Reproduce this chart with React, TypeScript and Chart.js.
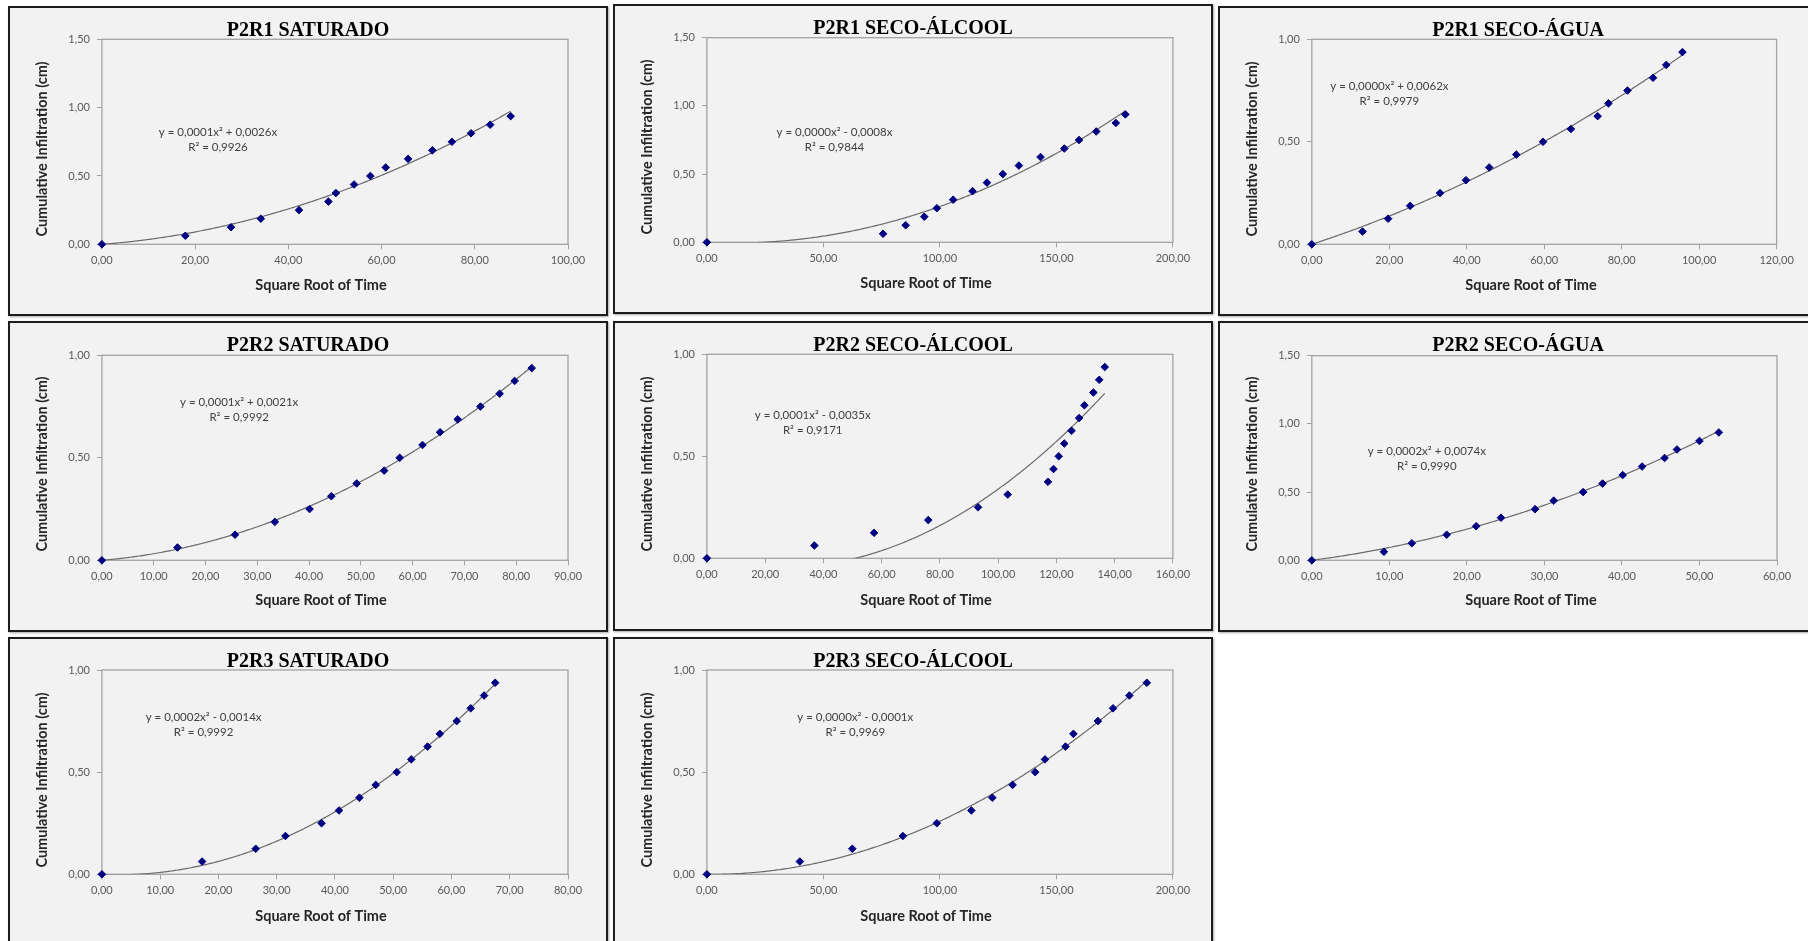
import React, { useEffect, useRef } from 'react';
import { Chart, registerables } from 'chart.js';

Chart.register(...registerables);

// ---- Data ----
const cumulativeInfiltration = [0, 0.0625, 0.125, 0.1875, 0.25, 0.3125, 0.375, 0.4375, 0.5, 0.5625, 0.625, 0.6875, 0.75, 0.8125, 0.875, 0.9375];

const sqrtTimeP2R1Saturado = [0, 17.9, 27.7, 34.1, 42.3, 48.6, 50.2, 54.1, 57.6, 60.9, 65.7, 70.9, 75.1, 79.2, 83.3, 87.7];
const sqrtTimeP2R1SecoAlcool = [0, 75.6, 85.3, 93.3, 98.7, 105.7, 114.0, 120.2, 127.0, 133.9, 143.2, 153.4, 159.7, 167.1, 175.5, 179.6];
const sqrtTimeP2R1SecoAgua = [0, 13.1, 19.7, 25.4, 33.1, 39.8, 45.8, 52.8, 59.7, 66.9, 73.8, 76.6, 81.5, 88.1, 91.5, 95.7];
const sqrtTimeP2R2Saturado = [0, 14.6, 25.7, 33.4, 40.1, 44.3, 49.2, 54.5, 57.5, 61.9, 65.3, 68.7, 73.1, 76.8, 79.7, 83.0];
const sqrtTimeP2R2SecoAlcool = [0, 36.9, 57.4, 76.0, 93.1, 103.3, 117.1, 119.0, 120.8, 122.7, 125.2, 127.8, 129.6, 132.7, 134.7, 136.6];
const sqrtTimeP2R2SecoAgua = [0, 9.3, 12.9, 17.4, 21.2, 24.4, 28.8, 31.2, 35.0, 37.5, 40.1, 42.6, 45.5, 47.1, 50.0, 52.5];
const sqrtTimeP2R3Saturado = [0, 17.2, 26.4, 31.5, 37.7, 40.7, 44.2, 47.0, 50.6, 53.1, 55.9, 58.0, 60.9, 63.3, 65.6, 67.5];
const sqrtTimeP2R3SecoAlcool = [0, 39.9, 62.4, 84.1, 98.7, 113.5, 122.5, 131.2, 140.9, 145.1, 153.9, 157.3, 167.8, 174.3, 181.3, 188.8];

const seriesX = [
  sqrtTimeP2R1Saturado, sqrtTimeP2R1SecoAlcool, sqrtTimeP2R1SecoAgua,
  sqrtTimeP2R2Saturado, sqrtTimeP2R2SecoAlcool, sqrtTimeP2R2SecoAgua,
  sqrtTimeP2R3Saturado, sqrtTimeP2R3SecoAlcool,
];

const panelTitles = [
  'P2R1 SATURADO', 'P2R1 SECO-ÁLCOOL', 'P2R1 SECO-ÁGUA',
  'P2R2 SATURADO', 'P2R2 SECO-ÁLCOOL', 'P2R2 SECO-ÁGUA',
  'P2R3 SATURADO', 'P2R3 SECO-ÁLCOOL',
];

const equationTexts = [
  'y = 0,0001x² + 0,0026x', 'y = 0,0000x² - 0,0008x', 'y = 0,0000x² + 0,0062x',
  'y = 0,0001x² + 0,0021x', 'y = 0,0001x² - 0,0035x', 'y = 0,0002x² + 0,0074x',
  'y = 0,0002x² - 0,0014x', 'y = 0,0000x² - 0,0001x',
];
const rSquaredTexts = [
  'R² = 0,9926', 'R² = 0,9844', 'R² = 0,9979',
  'R² = 0,9992', 'R² = 0,9171', 'R² = 0,9990',
  'R² = 0,9992', 'R² = 0,9969',
];

const xAxisMax = [100, 200, 120, 90, 160, 60, 80, 200];
const xAxisStep = [20, 50, 20, 10, 20, 10, 10, 50];
const yAxisMax = [1.5, 1.5, 1.0, 1.0, 1.0, 1.5, 1.0, 1.0];
const yAxisStep = [0.5, 0.5, 0.5, 0.5, 0.5, 0.5, 0.5, 0.5];

const xAxisTitle = 'Square Root of Time';
const yAxisTitle = 'Cumulative Infiltration (cm)';

// ---- Layout (styles) ----
type PanelLayout = { box: number[]; plot: number[]; eq: number[] };
const layouts: PanelLayout[] = [
  { box: [8, 6, 600, 310], plot: [101.9, 39.3, 568, 244.3], eq: [210, 126.7, 141.3] },
  { box: [613, 4, 600, 310], plot: [706.9, 37.7, 1172.9, 242.3], eq: [221.5, 128, 143] },
  { box: [1218, 6, 600, 310], plot: [1311.8, 39.3, 1776.6, 244.3], eq: [171.4, 80.7, 95.3] },
  { box: [8, 321, 600, 311], plot: [101.9, 355.3, 568, 560.3], eq: [231.2, 81.7, 96.7] },
  { box: [613, 321, 600, 310], plot: [706.9, 354.3, 1172.9, 558.3], eq: [199.7, 94.7, 109.7] },
  { box: [1218, 321, 600, 311], plot: [1311.8, 355.7, 1777, 560.3], eq: [208.8, 130.3, 145.7] },
  { box: [8, 637, 600, 310], plot: [101.9, 670, 568, 874.3], eq: [195.6, 80.3, 95.3] },
  { box: [613, 637, 600, 310], plot: [706.9, 670, 1172.9, 874.3], eq: [242.3, 80.3, 95.3] },
];

const fmt = (v: number) => Number(v).toFixed(2).replace('.', ',');

// Excel-style polynomial (order 2) trendline with intercept fixed at 0
function fitQuadraticThroughOrigin(xs: number[], ys: number[]) {
  let s2 = 0, s3 = 0, s4 = 0, sxy = 0, sx2y = 0;
  for (let i = 0; i < xs.length; i++) {
    const x = xs[i], y = ys[i];
    s2 += x * x; s3 += x * x * x; s4 += x * x * x * x;
    sxy += x * y; sx2y += x * x * y;
  }
  const det = s4 * s2 - s3 * s3;
  const a = (sx2y * s2 - s3 * sxy) / det;
  const b = (s4 * sxy - s3 * sx2y) / det;
  return { a, b };
}

function Panel({ idx }: { idx: number }) {
  const ref = useRef<HTMLCanvasElement>(null);
  const L = layouts[idx];
  const [bx, by, bw, bh] = L.box;

  useEffect(() => {
    const [pl, pt, pr, pb] = L.plot;
    const leftW = pl - bx;
    const topPad = pt - by;
    const rightPad = bw - (pr - bx);
    const bottomH = bh - (pb - by);
    const xs = seriesX[idx];
    const ys = cumulativeInfiltration;
    const fit = fitQuadraticThroughOrigin(xs, ys);
    const xLast = Math.max(...xs);

    const framePlugin = {
      id: 'frameAndTrend',
      beforeDatasetsDraw(chart: any) {
        const { ctx, chartArea, scales } = chart;
        const { left, top, right, bottom } = chartArea;
        ctx.save();
        ctx.strokeStyle = '#a3a3a3';
        ctx.lineWidth = 1.3;
        ctx.strokeRect(left, top, right - left, bottom - top);
        ctx.restore();

        // trendline
        ctx.save();
        ctx.beginPath();
        ctx.rect(left, top, right - left, bottom - top);
        ctx.clip();
        ctx.strokeStyle = '#6a6a6a';
        ctx.lineWidth = 1.2;
        ctx.beginPath();
        const n = 300;
        for (let i = 0; i <= n; i++) {
          const xv = (xLast * i) / n;
          const yv = fit.a * xv * xv + fit.b * xv;
          const px = scales.x.getPixelForValue(xv);
          const py = scales.y.getPixelForValue(yv);
          if (i === 0) ctx.moveTo(px, py); else ctx.lineTo(px, py);
        }
        ctx.stroke();
        ctx.restore();
      },
    };

    const textPlugin = {
      id: 'panelText',
      afterDraw(chart: any) {
        const { ctx } = chart;
        ctx.save();
        // title
        ctx.fillStyle = '#000000';
        ctx.font = 'bold 20px "Liberation Serif", "Times New Roman", serif';
        ctx.textAlign = 'center';
        ctx.textBaseline = 'alphabetic';
        ctx.fillText(panelTitles[idx], bw / 2, 30.2);

        // axis titles
        ctx.fillStyle = '#262626';
        ctx.font = 'bold 14.5px Lato, sans-serif';
        ctx.textBaseline = 'middle';
        ctx.fillText(xAxisTitle, 313, 279.5);
        ctx.save();
        ctx.translate(34.5, 143);
        ctx.rotate(-Math.PI / 2);
        ctx.fillText(yAxisTitle, 0, 0);
        ctx.restore();

        // equation
        ctx.fillStyle = '#404040';
        ctx.font = '11.5px Lato, sans-serif';
        ctx.fillText(equationTexts[idx], L.eq[0], L.eq[1]);
        ctx.fillText(rSquaredTexts[idx], L.eq[0], L.eq[2]);
        ctx.restore();
      },
    };

    const tickFont = { family: 'Lato, sans-serif', size: 11 };
    const chart = new Chart(ref.current as HTMLCanvasElement, {
      type: 'scatter',
      data: {
        datasets: [
          {
            data: xs.map((x, i) => ({ x, y: ys[i] })),
            pointStyle: 'rectRot',
            pointRadius: 3.8,
            pointHoverRadius: 3.8,
            backgroundColor: '#000080',
            borderColor: '#000080',
            borderWidth: 1,
            clip: false,
          } as any,
        ],
      },
      options: {
        responsive: false,
        animation: false,
        events: [],
        layout: { padding: { left: 0, top: topPad, right: rightPad, bottom: 0 } },
        plugins: { legend: { display: false }, tooltip: { enabled: false }, title: { display: false } },
        scales: {
          x: {
            type: 'linear',
            position: 'bottom',
            min: 0,
            max: xAxisMax[idx],
            ticks: {
              stepSize: xAxisStep[idx],
              callback: (v: any) => fmt(v),
              font: tickFont,
              color: '#595959',
              padding: 5,
              maxRotation: 0,
              autoSkip: false,
            },
            grid: { drawOnChartArea: false, drawTicks: true, tickLength: 5, color: '#a3a3a3', lineWidth: 1 },
            border: { display: false },
            afterFit: (s: any) => { s.height = bottomH; },
          },
          y: {
            type: 'linear',
            position: 'left',
            min: 0,
            max: yAxisMax[idx],
            ticks: {
              stepSize: yAxisStep[idx],
              callback: (v: any) => fmt(v),
              font: tickFont,
              color: '#595959',
              padding: 7,
              autoSkip: false,
            },
            grid: { drawOnChartArea: false, drawTicks: true, tickLength: 5, color: '#a3a3a3', lineWidth: 1 },
            border: { display: false },
            afterFit: (s: any) => { s.width = leftW; },
          },
        },
      } as any,
      plugins: [framePlugin, textPlugin],
    });
    return () => chart.destroy();
  }, [idx]);

  return (
    <div
      style={{
        position: 'absolute',
        left: bx,
        top: by,
        width: bw,
        height: bh,
        boxSizing: 'border-box',
        border: '2px solid #1c1c1c',
        background: '#f2f2f2',
        boxShadow: '1px 1px 2px rgba(0,0,0,0.35)',
      }}
    >
      <canvas
        ref={ref}
        width={bw}
        height={bh}
        style={{ position: 'absolute', left: -2, top: -2, width: bw, height: bh }}
      />
    </div>
  );
}

export default function App() {
  return (
    <div
      style={{
        position: 'fixed',
        left: 0,
        top: 0,
        width: '100vw',
        height: '100vh',
        overflow: 'hidden',
        background: '#ffffff',
      }}
    >
      {panelTitles.map((_, i) => (
        <Panel key={i} idx={i} />
      ))}
    </div>
  );
}
